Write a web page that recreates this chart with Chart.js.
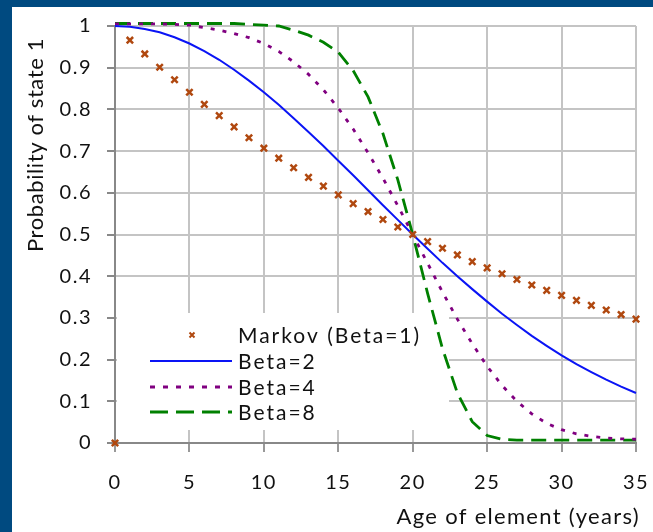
<!DOCTYPE html>
<html>
<head>
<meta charset="utf-8">
<script src="https://cdn.jsdelivr.net/npm/chart.js@4.4.1/dist/chart.umd.min.js"></script>
<style>
  html, body { margin: 0; padding: 0; background: #fff; }
  #wrap { width: 653px; height: 532px; }
</style>
</head>
<body>
<div id="wrap"><canvas id="chart" width="653" height="532"></canvas></div>
<script>
// age in years
const ages = [0, 1, 2, 3, 4, 5, 6, 7, 8, 9, 10, 11, 12, 13, 14, 15, 16, 17,
  18, 19, 20, 21, 22, 23, 24, 25, 26, 27, 28, 29, 30, 31, 32, 33, 34, 35];

// probability of state 1
const markov = [0, 0.966, 0.933, 0.901, 0.871, 0.841, 0.812, 0.785, 0.758, 0.732,
  0.707, 0.683, 0.660, 0.637, 0.616, 0.595, 0.574, 0.555, 0.536, 0.518,
  0.500, 0.483, 0.467, 0.451, 0.435, 0.420, 0.406, 0.392, 0.379, 0.366,
  0.354, 0.342, 0.330, 0.319, 0.308, 0.297];

const beta2 = [1.000, 0.998, 0.993, 0.985, 0.973, 0.958, 0.940, 0.919, 0.895, 0.869,
  0.841, 0.811, 0.779, 0.746, 0.712, 0.677, 0.642, 0.606, 0.570, 0.535,
  0.500, 0.466, 0.432, 0.400, 0.369, 0.339, 0.310, 0.283, 0.257, 0.233,
  0.210, 0.189, 0.170, 0.152, 0.135, 0.120];

const beta4 = [1.005, 1.005, 1.005, 1.005, 1.004, 1.002, 0.996, 0.990, 0.982, 0.972,
  0.958, 0.939, 0.914, 0.884, 0.847, 0.803, 0.753, 0.696, 0.635, 0.569,
  0.500, 0.431, 0.362, 0.297, 0.238, 0.184, 0.138, 0.100, 0.070, 0.047,
  0.032, 0.022, 0.016, 0.012, 0.010, 0.009];

const beta8 = [1.006, 1.006, 1.006, 1.006, 1.006, 1.006, 1.006, 1.006, 1.006, 1.004,
  1.002, 1.000, 0.990, 0.978, 0.961, 0.937, 0.893, 0.830, 0.742, 0.631,
  0.500, 0.359, 0.226, 0.120, 0.051, 0.018, 0.009, 0.007, 0.007, 0.007,
  0.007, 0.007, 0.007, 0.007, 0.007, 0.007];

const seriesNames = ['Markov (Beta=1)', 'Beta=2', 'Beta=4', 'Beta=8'];
const xTicks = [0, 5, 10, 15, 20, 25, 30, 35];

const FONT = 'Lato, "Noto Sans", sans-serif';
const colMarkov = '#b0480f';
const colB2 = '#0a14f5';
const colB4 = '#800080';
const colB8 = '#008000';

function pts(ys) {
  return ages.map((a, i) => ({ x: a, y: ys[i] }));
}

// blue frame round the white sheet
const framePlugin = {
  id: 'frame',
  beforeDraw(chart) {
    const ctx = chart.ctx;
    ctx.save();
    ctx.fillStyle = '#004a80';
    ctx.fillRect(0, 0, chart.width, chart.height);
    ctx.fillStyle = '#ffffff';
    ctx.fillRect(12, 7, chart.width - 12, chart.height - 7);
    ctx.restore();
    // a little spacing for the tick labels, like the original
    ctx.letterSpacing = '1.5px';
  }
};

// legend sits inside the plot, on a white box that hides the grid
const legendDash = [null, null, [5, 8], [18, 8]];
const legendPlugin = {
  id: 'insideLegend',
  beforeDatasetsDraw(chart) {
    const ctx = chart.ctx;
    ctx.save();
    ctx.fillStyle = '#ffffff';
    ctx.fillRect(117, 313, 332, 117);

    const rows = [335, 361, 387, 412];
    const x0 = 150, x1 = 232, tx = 238;
    chart.data.datasets.forEach((ds, i) => {
      const y = rows[i];
      ctx.strokeStyle = ds.borderColor;
      if (i === 0) {
        ctx.lineWidth = 2;
        const r = 2.5;
        ctx.beginPath();
        ctx.moveTo(192 - r, y - r); ctx.lineTo(192 + r, y + r);
        ctx.moveTo(192 - r, y + r); ctx.lineTo(192 + r, y - r);
        ctx.stroke();
      } else {
        ctx.lineWidth = ds.borderWidth;
        ctx.setLineDash(legendDash[i] || []);
        ctx.beginPath();
        ctx.moveTo(x0, y); ctx.lineTo(x1, y);
        ctx.stroke();
        ctx.setLineDash([]);
      }
      ctx.fillStyle = '#111';
      ctx.font = '21px ' + FONT;
      ctx.letterSpacing = '2px';
      ctx.textAlign = 'left';
      ctx.textBaseline = 'middle';
      ctx.fillText(ds.label, tx, y + 1);
    });
    ctx.restore();
  },
  afterDraw(chart) {
    const ctx = chart.ctx;
    ctx.save();
    ctx.fillStyle = '#111';
    ctx.font = '22px ' + FONT;
    ctx.textBaseline = 'middle';
    // x axis title
    ctx.letterSpacing = '1.3px';
    ctx.textAlign = 'right';
    ctx.fillText('Age of element (years)', 640, 517);
    // y axis title
    ctx.letterSpacing = '0.6px';
    ctx.translate(36, 38);
    ctx.rotate(-Math.PI / 2);
    ctx.textAlign = 'right';
    ctx.fillText('Probability of state 1', 0, 0);
    ctx.restore();
    ctx.letterSpacing = '0px';
  }
};

const gridColor = ctx => (ctx.tick && ctx.tick.value === 0) ? 'rgba(0,0,0,0)' : '#c4c4c4';

new Chart(document.getElementById('chart'), {
  type: 'scatter',
  data: {
    datasets: [
      {
        label: seriesNames[0],
        data: pts(markov),
        showLine: false,
        pointStyle: 'crossRot',
        pointRadius: 4.5,
        pointBorderWidth: 2.5,
        borderColor: colMarkov,
        backgroundColor: colMarkov,
        clip: false
      },
      {
        label: seriesNames[1],
        data: pts(beta2),
        showLine: true,
        borderColor: colB2,
        borderWidth: 2,
        pointRadius: 0,
        clip: false
      },
      {
        label: seriesNames[2],
        data: pts(beta4),
        showLine: true,
        borderColor: colB4,
        borderWidth: 2.8,
        borderDash: [4, 8],
        pointRadius: 0,
        clip: false
      },
      {
        label: seriesNames[3],
        data: pts(beta8),
        showLine: true,
        borderColor: colB8,
        borderWidth: 2.8,
        borderDash: [15, 8],
        pointRadius: 0,
        clip: false
      }
    ]
  },
  options: {
    responsive: false,
    animation: false,
    layout: { padding: { left: 12, top: 26, right: 17, bottom: 0 } },
    plugins: {
      legend: { display: false },
      tooltip: { enabled: false }
    },
    scales: {
      x: {
        type: 'linear',
        min: 0,
        max: 35,
        afterBuildTicks: scale => { scale.ticks = xTicks.map(v => ({ value: v })); },
        afterFit: scale => {
          scale.height = 89;
          scale.paddingLeft = 0;
          scale.paddingRight = 0;
        },
        grid: { color: gridColor, lineWidth: 2, tickLength: 9, tickColor: '#999' },
        border: { color: '#888', width: 2 },
        ticks: { color: '#111', font: { family: FONT, size: 20 }, padding: 19, maxRotation: 0 }
      },
      y: {
        min: 0,
        max: 1,
        afterFit: scale => {
          scale.width = 103;
          scale.paddingTop = 0;
          scale.paddingBottom = 0;
        },
        grid: { color: gridColor, lineWidth: 2, tickLength: 8, tickColor: '#888' },
        border: { color: '#888', width: 2 },
        ticks: {
          stepSize: 0.1,
          color: '#111',
          font: { family: FONT, size: 20 },
          padding: 15,
          callback: v => String(+v.toFixed(1))
        }
      }
    }
  },
  plugins: [framePlugin, legendPlugin]
});
</script>
</body>
</html>
